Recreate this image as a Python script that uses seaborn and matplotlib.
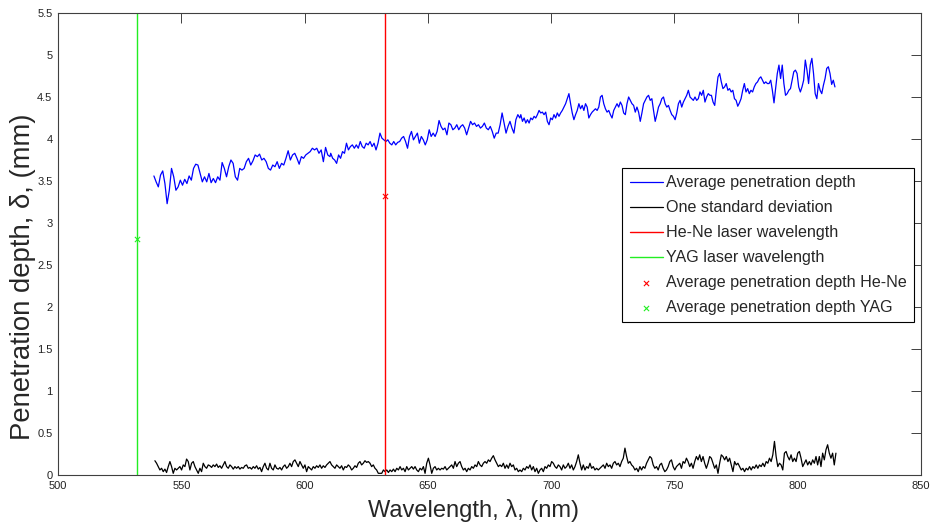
import numpy as np
import pandas as pd
import seaborn as sns
import matplotlib
matplotlib.use("Agg")
import matplotlib.pyplot as plt
from matplotlib.ticker import FuncFormatter

# Average penetration depth (mm), sampled along four wavelength spans (nm)
depth_span_1 = (538.9, 610.3)
depth_1 = [3.56, 3.49, 3.43, 3.57, 3.62, 3.47, 3.23, 3.39, 3.65, 3.55, 3.39, 3.43, 3.51, 3.45,
           3.52, 3.47, 3.56, 3.51, 3.65, 3.70, 3.69, 3.59, 3.49, 3.55, 3.49, 3.59, 3.48, 3.53,
           3.48, 3.55, 3.51, 3.72, 3.65, 3.55, 3.67, 3.75, 3.71, 3.55, 3.51, 3.65, 3.63, 3.65,
           3.73, 3.77, 3.69, 3.74, 3.81, 3.79, 3.82, 3.75, 3.77, 3.73, 3.65, 3.63, 3.69, 3.67,
           3.73, 3.65, 3.71, 3.69, 3.77, 3.86, 3.75, 3.81, 3.83, 3.77, 3.70, 3.79, 3.77, 3.81,
           3.83, 3.85, 3.89, 3.87, 3.89, 3.83, 3.87, 3.73, 3.90, 3.81, 3.79]
depth_span_2 = (610.6, 687.3)
depth_2 = [3.83, 3.77, 3.75, 3.71, 3.81, 3.77, 3.85, 3.83, 3.95, 3.87, 3.91, 3.93, 3.89, 3.93,
           3.89, 3.97, 3.91, 3.89, 3.95, 3.93, 3.97, 3.91, 3.95, 3.87, 3.95, 4.07, 4.01, 3.99,
           3.97, 3.99, 3.95, 3.93, 3.97, 3.93, 3.96, 3.97, 4.01, 4.03, 3.97, 3.89, 4.03, 4.09,
           3.99, 4.03, 4.07, 3.95, 4.03, 3.99, 3.93, 3.99, 4.11, 4.03, 4.07, 4.03, 4.09, 4.22,
           4.15, 4.11, 4.13, 4.05, 4.19, 4.17, 4.11, 4.13, 4.17, 4.11, 4.15, 4.17, 4.13, 4.05,
           4.13, 4.21, 4.17, 4.19, 4.15, 4.17, 4.13, 4.15, 4.19, 4.13, 4.11, 4.15, 4.09, 4.01,
           4.07, 4.07, 4.17, 4.31, 4.19, 4.07, 4.15, 4.21, 4.13, 4.07, 4.23, 4.29, 4.25]
depth_span_3 = (687.7, 764.4)
depth_3 = [4.29, 4.21, 4.25, 4.19, 4.23, 4.19, 4.25, 4.23, 4.27, 4.25, 4.29, 4.34, 4.31, 4.32,
           4.29, 4.32, 4.21, 4.17, 4.25, 4.23, 4.29, 4.25, 4.31, 4.27, 4.31, 4.34, 4.38, 4.42,
           4.48, 4.54, 4.42, 4.31, 4.23, 4.29, 4.34, 4.42, 4.36, 4.40, 4.34, 4.42, 4.38, 4.25,
           4.29, 4.32, 4.34, 4.36, 4.34, 4.38, 4.50, 4.52, 4.42, 4.36, 4.32, 4.34, 4.29, 4.25,
           4.34, 4.38, 4.42, 4.38, 4.44, 4.40, 4.31, 4.29, 4.42, 4.50, 4.46, 4.42, 4.40, 4.32,
           4.38, 4.32, 4.21, 4.31, 4.42, 4.46, 4.50, 4.52, 4.46, 4.48, 4.34, 4.21, 4.29, 4.38,
           4.42, 4.48, 4.50, 4.42, 4.38, 4.40, 4.34, 4.29, 4.27, 4.23, 4.31, 4.42, 4.46, 4.38,
           4.44, 4.48, 4.52, 4.58, 4.50, 4.48, 4.46, 4.50, 4.46, 4.48, 4.56, 4.52, 4.58, 4.44,
           4.50, 4.54, 4.52]
depth_span_4 = (765.0, 815.1)
depth_4 = [4.52, 4.44, 4.40, 4.58, 4.74, 4.78, 4.68, 4.60, 4.62, 4.66, 4.58, 4.60, 4.56, 4.58,
           4.48, 4.46, 4.39, 4.43, 4.48, 4.58, 4.66, 4.56, 4.60, 4.54, 4.58, 4.56, 4.62, 4.66,
           4.68, 4.72, 4.74, 4.70, 4.66, 4.68, 4.66, 4.66, 4.70, 4.58, 4.43, 4.60, 4.78, 4.88,
           4.72, 4.88, 4.66, 4.52, 4.54, 4.58, 4.60, 4.70, 4.80, 4.82, 4.78, 4.62, 4.56, 4.62,
           4.70, 4.94, 4.82, 4.66, 4.88, 4.96, 4.78, 4.54, 4.48, 4.66, 4.58, 4.54, 4.64, 4.72,
           4.84, 4.86, 4.78, 4.65, 4.70, 4.62]

# One standard deviation (mm), sampled along three wavelength spans (nm)
std_span_1 = (539.3, 629.9)
std_1 = [0.17, 0.14, 0.10, 0.06, 0.08, 0.04, 0.07, 0.03, 0.10, 0.16, 0.10, 0.02, 0.08, 0.06,
         0.08, 0.10, 0.06, 0.12, 0.10, 0.19, 0.16, 0.06, 0.14, 0.16, 0.10, 0.06, 0.02, 0.08,
         0.04, 0.14, 0.10, 0.08, 0.12, 0.11, 0.09, 0.12, 0.10, 0.13, 0.09, 0.11, 0.08, 0.12,
         0.16, 0.10, 0.08, 0.12, 0.10, 0.07, 0.10, 0.08, 0.10, 0.07, 0.09, 0.08, 0.11, 0.12,
         0.08, 0.09, 0.07, 0.10, 0.08, 0.11, 0.07, 0.09, 0.04, 0.10, 0.14, 0.08, 0.06, 0.14,
         0.08, 0.06, 0.12, 0.08, 0.07, 0.09, 0.06, 0.10, 0.12, 0.08, 0.10, 0.14, 0.10, 0.16,
         0.18, 0.14, 0.10, 0.16, 0.12, 0.08, 0.12, 0.04, 0.10, 0.08, 0.06, 0.10, 0.08, 0.11,
         0.09, 0.12, 0.08, 0.11, 0.09, 0.12, 0.14, 0.16, 0.12, 0.10, 0.08, 0.12, 0.10, 0.08,
         0.11, 0.06, 0.10, 0.09, 0.12, 0.10, 0.06, 0.08, 0.11, 0.09, 0.14, 0.16, 0.12, 0.14,
         0.17, 0.15, 0.16, 0.14, 0.10, 0.12, 0.08, 0.06, 0.02]
std_span_2 = (631.3, 719.8)
std_2 = [0.02, 0.06, 0.04, 0.06, 0.03, 0.06, 0.04, 0.07, 0.04, 0.08, 0.06, 0.10, 0.06, 0.08,
         0.04, 0.10, 0.06, 0.08, 0.10, 0.07, 0.10, 0.06, 0.04, 0.08, 0.06, 0.10, 0.02, 0.14,
         0.20, 0.12, 0.02, 0.08, 0.10, 0.06, 0.08, 0.06, 0.08, 0.07, 0.10, 0.06, 0.08, 0.10,
         0.12, 0.08, 0.16, 0.10, 0.14, 0.16, 0.10, 0.06, 0.08, 0.04, 0.08, 0.06, 0.10, 0.08,
         0.12, 0.10, 0.16, 0.12, 0.10, 0.14, 0.16, 0.14, 0.18, 0.16, 0.20, 0.23, 0.18, 0.14,
         0.10, 0.12, 0.10, 0.14, 0.08, 0.12, 0.08, 0.14, 0.10, 0.12, 0.06, 0.08, 0.04, 0.06,
         0.04, 0.08, 0.06, 0.10, 0.08, 0.12, 0.06, 0.10, 0.04, 0.08, 0.02, 0.06, 0.08, 0.04,
         0.10, 0.08, 0.12, 0.10, 0.16, 0.14, 0.10, 0.08, 0.12, 0.10, 0.06, 0.12, 0.08, 0.10,
         0.14, 0.08, 0.12, 0.06, 0.10, 0.16, 0.24, 0.14, 0.06, 0.12, 0.06, 0.10, 0.08, 0.14,
         0.08, 0.10, 0.06, 0.08, 0.06, 0.08]
std_span_3 = (720.5, 815.5)
std_3 = [0.10, 0.12, 0.08, 0.14, 0.10, 0.12, 0.08, 0.14, 0.16, 0.12, 0.14, 0.10, 0.16, 0.20,
         0.32, 0.22, 0.14, 0.16, 0.12, 0.10, 0.06, 0.08, 0.04, 0.10, 0.06, 0.10, 0.08, 0.14,
         0.18, 0.22, 0.20, 0.12, 0.08, 0.10, 0.06, 0.12, 0.14, 0.08, 0.04, 0.06, 0.10, 0.16,
         0.18, 0.10, 0.06, 0.10, 0.12, 0.14, 0.08, 0.16, 0.14, 0.20, 0.16, 0.10, 0.14, 0.08,
         0.16, 0.22, 0.18, 0.24, 0.16, 0.22, 0.14, 0.08, 0.14, 0.22, 0.20, 0.14, 0.08, 0.12,
         0.02, 0.14, 0.24, 0.22, 0.18, 0.22, 0.16, 0.20, 0.12, 0.04, 0.16, 0.12, 0.14, 0.10,
         0.06, 0.08, 0.04, 0.08, 0.06, 0.10, 0.06, 0.10, 0.08, 0.12, 0.08, 0.12, 0.10, 0.14,
         0.10, 0.16, 0.14, 0.20, 0.16, 0.24, 0.40, 0.22, 0.10, 0.14, 0.12, 0.06, 0.26, 0.28,
         0.22, 0.18, 0.24, 0.16, 0.20, 0.16, 0.26, 0.28, 0.20, 0.10, 0.14, 0.18, 0.12, 0.16,
         0.12, 0.18, 0.14, 0.22, 0.12, 0.22, 0.10, 0.26, 0.18, 0.30, 0.36, 0.26, 0.20, 0.26,
         0.12, 0.26]

# Laser lines (nm) and the average depth at each (mm)
hene_wavelength = 632.8
yag_wavelength = 532.0
hene_depth = 3.32
yag_depth = 2.81

x_ticks = [500, 550, 600, 650, 700, 750, 800, 850]
y_ticks = [0, 0.5, 1, 1.5, 2, 2.5, 3, 3.5, 4, 4.5, 5, 5.5]


def build_series(spans_and_values):
    wl, val = [], []
    for (start, end), values in spans_and_values:
        wl.append(np.linspace(start, end, len(values)))
        val.append(np.asarray(values, dtype=float))
    return np.concatenate(wl), np.concatenate(val)


wl_depth, depth = build_series([(depth_span_1, depth_1), (depth_span_2, depth_2),
                                (depth_span_3, depth_3), (depth_span_4, depth_4)])
wl_std, std = build_series([(std_span_1, std_1), (std_span_2, std_2), (std_span_3, std_3)])

df_depth = pd.DataFrame({"wavelength": wl_depth, "depth": depth})
df_std = pd.DataFrame({"wavelength": wl_std, "std": std})

sns.set_style("white")
plt.rcParams["font.family"] = ["Liberation Sans", "DejaVu Sans"]

fig = plt.figure(figsize=(9.31, 5.25), dpi=100)
ax = fig.add_axes([58 / 931, 1 - 475 / 525, 863 / 931, 462 / 525])

sns.lineplot(data=df_depth, x="wavelength", y="depth", ax=ax, color="#0000ff",
             linewidth=0.9, label="Average penetration depth", estimator=None, sort=False)
sns.lineplot(data=df_std, x="wavelength", y="std", ax=ax, color="black",
             linewidth=0.9, label="One standard deviation", estimator=None, sort=False)
ax.axvline(hene_wavelength, color="#ff0000", linewidth=1.0, label="He-Ne laser wavelength")
ax.axvline(yag_wavelength, color="#22ee22", linewidth=1.0, label="YAG laser wavelength")
sns.scatterplot(x=[hene_wavelength], y=[hene_depth], ax=ax, marker="x", color="#ff0000",
                s=14, linewidth=0.8, label="Average penetration depth He-Ne", zorder=5)
sns.scatterplot(x=[yag_wavelength], y=[yag_depth], ax=ax, marker="x", color="#22ee22",
                s=14, linewidth=0.8, label="Average penetration depth YAG", zorder=5)

ax.set_xlim(500, 850)
ax.set_ylim(0, 5.5)
ax.set_xticks(x_ticks)
ax.set_yticks(y_ticks)
ax.xaxis.set_major_formatter(FuncFormatter(lambda v, p: f"{v:g}"))
ax.yaxis.set_major_formatter(FuncFormatter(lambda v, p: f"{v:g}"))
ax.tick_params(axis="both", which="major", direction="in", length=7, width=0.7,
               color="#404040", labelsize=8, labelcolor="#222222", top=True, right=True,
               pad=4)

for side in ["top", "right", "bottom", "left"]:
    ax.spines[side].set_visible(True)
    ax.spines[side].set_color("#404040")
    ax.spines[side].set_linewidth(0.8)

ax.set_xlabel("Wavelength, λ, (nm)", fontsize=17)
ax.xaxis.set_label_coords(0.482, -0.052)
ax.set_ylabel("Penetration depth, δ, (mm)", fontsize=19.8)
ax.yaxis.set_label_coords(-0.025, 0.43)

leg = ax.legend(loc="upper left", bbox_to_anchor=(0.654, 0.6645), borderaxespad=0,
                fontsize=11.6, frameon=True, fancybox=False, shadow=False,
                handlelength=2.05, handletextpad=0.2, labelspacing=0.62,
                borderpad=0.45, scatterpoints=1)
leg.get_frame().set_edgecolor("black")
leg.get_frame().set_linewidth(0.8)
leg.get_frame().set_facecolor("white")
leg.get_frame().set_alpha(1.0)

fig.savefig("out.png", dpi=100, facecolor="white")
